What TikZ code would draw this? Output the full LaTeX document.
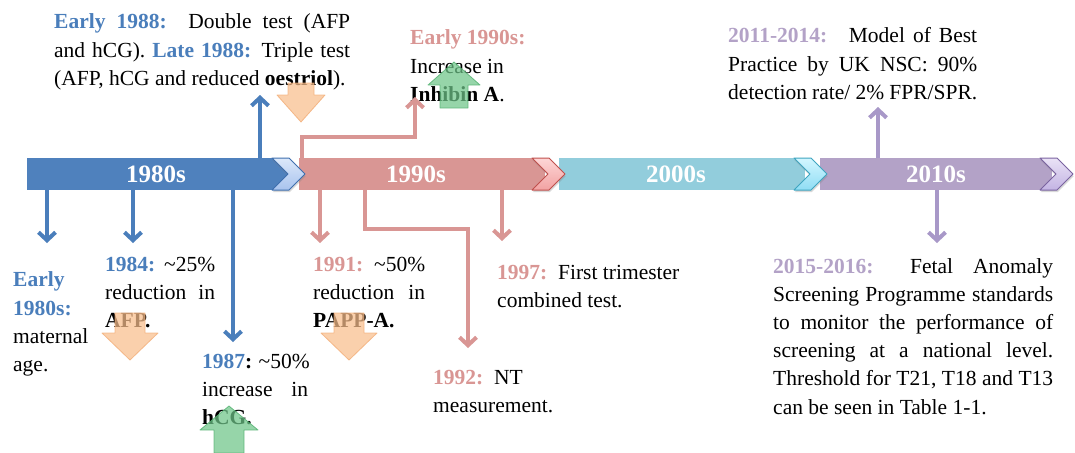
\documentclass[tikz,border=0pt]{standalone}
\usepackage{fontspec}
\setmainfont{Liberation Serif}
\usetikzlibrary{arrows.meta,shadows}

% decade colours
\definecolor{bar80}{HTML}{4F81BD}
\definecolor{bar90}{HTML}{D99694}
\definecolor{bar00}{HTML}{92CDDC}
\definecolor{bar10}{HTML}{B3A2C7}
% label / connector colours
\definecolor{txt80}{HTML}{4A7EBB}
\definecolor{txt90}{HTML}{D99694}
\definecolor{txt10}{HTML}{B3A2C7}
\definecolor{ln10}{HTML}{A898C8}
% block arrows (decrease / increase)
\definecolor{orangeA}{HTML}{F9BE8C}
\definecolor{orangeB}{HTML}{F3AE78}
\definecolor{greenA}{HTML}{6EC589}
\definecolor{greenB}{HTML}{52B170}
% chevron fills and outlines
\definecolor{chA1}{HTML}{DCE8FA}\definecolor{chA2}{HTML}{A8C3EE}\definecolor{chA3}{HTML}{3F6FAE}
\definecolor{chB1}{HTML}{FDD6D6}\definecolor{chB2}{HTML}{F2A2A2}\definecolor{chB3}{HTML}{C0504D}
\definecolor{chC1}{HTML}{D3F6FF}\definecolor{chC2}{HTML}{8FDDF4}\definecolor{chC3}{HTML}{3FA5C0}
\definecolor{chD1}{HTML}{EAE3F6}\definecolor{chD2}{HTML}{C3B3E3}\definecolor{chD3}{HTML}{7A63A0}

% one justified line, and a coloured bold lead-in
\newcommand{\jl}[1]{\makebox[\linewidth][s]{#1}}
\newcommand{\hl}[2]{{\color{#1}\bfseries #2}}

% chevron joining two decades: #1 left x, #2 top colour, #3 bottom colour, #4 outline
\newcommand{\chevron}[4]{%
  \draw[chev, draw=#4, top color=#2, bottom color=#3,
        drop shadow={shadow xshift=0.6pt, shadow yshift=-2.2pt, opacity=0.3}]
    (#1,158) -- ++(17,0) -- ++(16,16) -- ++(-16,16) -- ++(-17,0) -- ++(16,-16) -- cycle;}

\tikzset{
  bar/.style={inner sep=0pt, outer sep=0pt, minimum height=32pt, anchor=west},
  yearlbl/.style={text=white, inner sep=0pt, font=\fontsize{25}{30}\selectfont\bfseries},
  chev/.style={line width=1pt, line join=round},
  conn/.style={line width=4pt, -{Straight Barb[length=8pt,width=17pt]}},
  evt/.style={inner sep=0pt, anchor=base west, font=\fontsize{21.5}{28.2}\selectfont},
  downblk/.style={fill=orangeA, draw=orangeB, line width=0.8pt, fill opacity=0.72, draw opacity=0.8, line join=round},
  upblk/.style={fill=greenA, draw=greenB, line width=0.8pt, fill opacity=0.72, draw opacity=0.8, line join=round},
}

\begin{document}
\begin{tikzpicture}[x=1pt, y=-1pt]
\useasboundingbox (0,0) rectangle (1075,452);
\fill[white] (0,0) rectangle (1075,452);

% ---- timeline bar ----
\node[bar, fill=bar80, minimum width=260pt] (b80) at (27,174) {};
\node[bar, fill=bar90, minimum width=246pt] (b90) at (299,174) {};
\node[bar, fill=bar00, minimum width=246pt] (b00) at (559,174) {};
\node[bar, fill=bar10, minimum width=232pt] (b10) at (820,174) {};

\chevron{272}{chA1}{chA2}{chA3}
\chevron{532}{chB1}{chB2}{chB3}
\chevron{794}{chC1}{chC2}{chC3}
\chevron{1040}{chD1}{chD2}{chD3}

\node[yearlbl] (y80) at (156,174) {1980s};
\node[yearlbl] (y90) at (416,174) {1990s};
\node[yearlbl] (y00) at (676,174) {2000s};
\node[yearlbl] (y10) at (936,174) {2010s};

% ---- events ----
\node[evt] (e88) at (54,29) {\parbox[t]{296pt}{%
  \jl{\hl{txt80}{Early 1988:}\quad Double test (AFP}\\%
  \jl{and hCG). \hl{txt80}{Late 1988:} Triple test}\\%
  (AFP, hCG and reduced \textbf{oestriol}).}};

\node[evt] (e90s) at (410,30) {\parbox[t]{160pt}{%
  \hl{txt90}{Early 1990s:}\\%
  Increase in\\%
  \textbf{Inhibin A}.}};

\node[evt] (e11) at (728,43) {\parbox[t]{249pt}{%
  \jl{\hl{txt10}{2011-2014:}\quad Model of Best}\\%
  \jl{Practice by UK NSC: 90\%}\\%
  detection rate/ 2\% FPR/SPR.}};

\node[evt] (e80s) at (13,272) {\parbox[t]{90pt}{%
  \hl{txt80}{Early}\\%
  \hl{txt80}{1980s:}\\%
  maternal\\%
  age.}};

\node[evt] (e84) at (105,271) {\parbox[t]{110pt}{%
  \jl{\hl{txt80}{1984:} \textasciitilde25\%}\\%
  \jl{reduction in}\\%
  \textbf{AFP.}}};

\node[evt] (e87) at (202,368) {\parbox[t]{106pt}{%
  \jl{\hl{txt80}{1987}\textbf{:} \textasciitilde50\%}\\%
  \jl{increase in}\\%
  \textbf{hCG.}}};

\node[evt] (e91) at (313,271) {\parbox[t]{112pt}{%
  \jl{\hl{txt90}{1991:} \textasciitilde50\%}\\%
  \jl{reduction in}\\%
  \textbf{PAPP-A.}}};

\node[evt] (e97) at (497,265) {\parbox[t]{220pt}{%
  \hl{txt90}{1997:}\enspace First trimester\\%
  combined test.}};

\node[evt] (e92) at (433,370) {\parbox[t]{200pt}{%
  \hl{txt90}{1992:}\enspace NT\\%
  measurement.}};

\node[evt] (e15) at (773,273) {\parbox[t]{280pt}{%
  \jl{\hl{txt10}{2015-2016:} Fetal Anomaly}\\%
  \jl{Screening Programme standards}\\%
  \jl{to monitor the performance of}\\%
  \jl{screening at a national level.}\\%
  \jl{Threshold for T21, T18 and T13}\\%
  can be seen in Table 1-1.}};

% ---- connector ends ----
\coordinate (t80s) at (47,243);
\coordinate (t84)  at (133,243);
\coordinate (t87)  at (233,342);
\coordinate (t88)  at (260,95);
\coordinate (t91)  at (320,243);
\coordinate (t97)  at (502,241);
\coordinate (t90s) at (415,97);
\coordinate (k90s) at (302,137);
\coordinate (t92)  at (468,348);
\coordinate (k92)  at (365,229);
\coordinate (t11)  at (878,107);
\coordinate (t15)  at (937,243);

% ---- connectors ----
\draw[conn, txt80] (t80s |- b80.south) -- (t80s);
\draw[conn, txt80] (t84 |- b80.south) -- (t84);
\draw[conn, txt80] (t87 |- b80.south) -- (t87);
\draw[conn, txt80] (t88 |- b80.north) -- (t88);

\draw[conn, txt90, line join=miter] (k90s |- b90.north) -- (k90s) -- (k90s -| t90s) -- (t90s);
\draw[conn, txt90] (t91 |- b90.south) -- (t91);
\draw[conn, txt90, line join=miter] (k92 |- b90.south) -- (k92) -- (k92 -| t92) -- (t92);
\draw[conn, txt90] (t97 |- b90.south) -- (t97);

\draw[conn, ln10] (t11 |- b10.north) -- (t11);
\draw[conn, ln10] (t15 |- b10.south) -- (t15);

% ---- decrease / increase markers ----
\draw[downblk] (288,83) -- (314,83) -- (314,95) -- (325,95) -- (301,122) -- (277,95) -- (288,95) -- cycle;
\draw[downblk] (115,313) -- (145,313) -- (145,333) -- (158,333) -- (130,360) -- (102,333) -- (115,333) -- cycle;
\draw[downblk] (334,313) -- (364,313) -- (364,333) -- (377,333) -- (349,360) -- (321,333) -- (334,333) -- cycle;
\draw[upblk] (440,108) -- (468,108) -- (468,85) -- (480,85) -- (454,62) -- (428,85) -- (440,85) -- cycle;
\draw[upblk] (214,453) -- (244,453) -- (244,430) -- (258,430) -- (229,406) -- (200,430) -- (214,430) -- cycle;
\end{tikzpicture}
\end{document}
